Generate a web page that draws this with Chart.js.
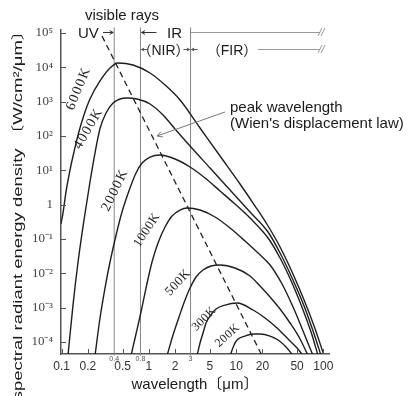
<!DOCTYPE html>
<html><head><meta charset="utf-8">
<script src="https://cdn.jsdelivr.net/npm/chart.js@4.4.1/dist/chart.umd.min.js"></script>
<style>html,body{margin:0;padding:0;background:#fff;overflow:hidden}#wrap{width:409px;height:396px;position:relative}</style>
</head><body><div id="wrap"><canvas id="c"></canvas></div>
<script>
// ---------- data ----------
const xTickValues = [0.1, 0.2, 0.5, 1, 2, 5, 10, 20, 50, 100];
const xTickLabels = ['0.1', '0.2', '0.5', '1', '2', '5', '10', '20', '50', '100'];
const yTickValues = [1e5, 1e4, 1e3, 100, 10, 1, 0.1, 0.01, 0.001, 0.0001];
const yTickLabels = ['10⁵', '10⁴', '10³', '10²', '10¹', '1', '10⁻¹', '10⁻²', '10⁻³', '10⁻⁴'];

const temps = ['6000K', '4000K', '2000K', '1000K', '500K', '300K', '200K'];
const wl6000 = [0.098, 0.1035, 0.112, 0.1245, 0.1384, 0.154, 0.180, 0.211, 0.275, 0.358, 0.442, 0.657, 1.03, 1.53, 2.274, 3.855, 6.539, 11.08, 16.47, 23.22, 31.87, 43.75, 60.07, 78.22, 101.9];
const e6000  = [0.273, 0.571, 2.34, 10.2, 34.2, 107, 409, 1195, 4000, 9550, 13370, 11690, 6838, 3057, 1118, 171, 26.1, 4.00, 0.913, 0.239, 0.0584, 0.0109, 0.00167, 0.000292, 0.00004];
const wl4000 = [0.118, 0.1348, 0.154, 0.1802, 0.211, 0.2409, 0.275, 0.3222, 0.388, 0.466, 0.561, 0.731, 1.03, 1.451, 1.992, 2.96, 5.02, 8.511, 14.43, 23.22, 31.87, 43.75, 60.07, 76.18, 94.10];
const e4000  = [0.00004, 0.00119, 0.02135, 0.357, 4.57, 31.9, 165, 467, 914, 1195, 1278, 1195, 855, 409, 160, 51.1, 11.7, 2.67, 0.611, 0.160, 0.0390, 0.0073, 0.00112, 0.000209, 0.00004];
const wl2000 = [0.2409, 0.275, 0.3137, 0.358, 0.4206, 0.4914, 0.607, 0.7113, 0.8335, 1.03, 1.341, 1.992, 2.96, 4.399, 6.539, 9.714, 14.43, 23.22, 31.87, 43.75, 58.51, 72.26, 86.96];
const e2000  = [0.00004, 0.000499, 0.00373, 0.02135, 0.131, 0.611, 3.05, 8.35, 16.3, 24.4, 27.9, 21.4, 12.5, 5.97, 2.50, 1.04, 0.409, 0.107, 0.0279, 0.00522, 0.000854, 0.000195, 0.00004];
const wl1000 = [0.6233, 0.7113, 0.8115, 0.9264, 1.0853, 1.2716, 1.530, 1.8403, 2.274, 2.735, 3.855, 5.728, 8.511, 12.65, 17.83, 24.48, 33.60, 44.92, 58.51, 76.18];
const e1000  = [0.00004, 0.000171, 0.000746, 0.00373, 0.02135, 0.0764, 0.2234, 0.467, 0.698, 0.799, 0.698, 0.437, 0.209, 0.0873, 0.0390, 0.0175, 0.00488, 0.00104, 0.000209, 0.00004];
const wl500  = [1.613, 1.889, 2.214, 2.594, 2.96, 3.469, 4.172, 5.155, 6.539, 9.714, 14.43, 18.80, 24.48, 31.87, 41.50, 54.06, 66.77];
const e500   = [0.00004, 0.00016, 0.000534, 0.00167, 0.00373, 0.00781, 0.0125, 0.01633, 0.0175, 0.0143, 0.00835, 0.00427, 0.00204, 0.000913, 0.000357, 0.000122, 0.00004];
const wl300  = [3.561, 3.855, 4.172, 4.517, 5.020, 5.883, 7.459, 10.24, 15.63, 21.45, 29.44, 39.37, 49.93, 58.51];
const e300   = [0.00004, 0.0000933, 0.000182, 0.000357, 0.000571, 0.000913, 0.00119, 0.00136, 0.000854, 0.000499, 0.000255, 0.000122, 0.0000667, 0.00004];
const wl200  = [8.511, 9.461, 10.24, 12.65, 15.63, 18.80, 24.48, 30.23, 37.34, 44.92];
const e200   = [0.00004, 0.0000816, 0.000114, 0.000149, 0.000171, 0.000171, 0.000149, 0.000114, 0.0000714, 0.00004];

// peak wavelength (Wien's displacement law) dashed line
const wlPeak = [0.29, 19.8];
const ePeak  = [81800, 0.00004];
// band boundaries (μm)
const bandEdges = [0.4, 0.8, 3];
const bandEdgeLabels = ['0.4', '0.8', '3'];
const bandLineE = [0.00004, 145000];

// curve label anchors (λ, E), rotation (deg), font size (px)
const labelWl   = [0.156, 0.203, 0.41, 0.95, 2.157, 4.285, 7.97];
const labelE    = [2417, 165, 2.67, 0.183, 0.0054, 0.000467, 0.000154];
const labelRot  = [-68, -60, -64, -57, -47, -45, -42];
const labelSize = [14, 14, 14, 13, 13, 12, 12];

// ---------- build ----------
const wls = [wl6000, wl4000, wl2000, wl1000, wl500, wl300, wl200];
const es  = [e6000, e4000, e2000, e1000, e500, e300, e200];
const pts = (xs, ys) => xs.map((v, i) => ({x: v, y: ys[i]}));

const datasets = [];
temps.forEach((t, i) => datasets.push({
  label: t, data: pts(wls[i], es[i]), borderColor: '#1e1e1e', borderWidth: 1.4,
  pointRadius: 0, cubicInterpolationMode: 'monotone', fill: false
}));
datasets.push({label: 'peak', data: pts(wlPeak, ePeak), borderColor: '#222', borderWidth: 1.3,
  borderDash: [6, 4], pointRadius: 0, tension: 0, fill: false});
bandEdges.forEach(b => datasets.push({label: 'edge' + b, data: pts([b, b], bandLineE),
  borderColor: '#858585', borderWidth: 1, pointRadius: 0, tension: 0, clip: false, fill: false}));

const SANS = '"Liberation Sans", Arial, "Noto Sans CJK JP", sans-serif';
const SERIF = '"Liberation Serif", "Times New Roman", serif';

function arrow(ctx, x1, y1, x2, y2, h) {
  h = h || 4;
  const a = Math.atan2(y2 - y1, x2 - x1);
  ctx.beginPath(); ctx.moveTo(x1, y1); ctx.lineTo(x2, y2);
  ctx.moveTo(x2 - h * Math.cos(a - 0.5), y2 - h * Math.sin(a - 0.5));
  ctx.lineTo(x2, y2);
  ctx.lineTo(x2 - h * Math.cos(a + 0.5), y2 - h * Math.sin(a + 0.5));
  ctx.stroke();
}
function brk(ctx, x, y) {
  ctx.beginPath();
  ctx.moveTo(x - 3, y + 4); ctx.lineTo(x + 1, y - 4);
  ctx.moveTo(x, y + 4); ctx.lineTo(x + 4, y - 4);
  ctx.stroke();
}

const decor = {
  id: 'decor',
  afterDraw(chart) {
    const {ctx, scales: {x, y}, chartArea: a} = chart;
    ctx.save();
    // inward tick marks
    ctx.strokeStyle = '#555'; ctx.lineWidth = 1;
    xTickValues.forEach(v => {
      const px = Math.round(x.getPixelForValue(v)) + 0.5;
      ctx.beginPath(); ctx.moveTo(px, a.bottom); ctx.lineTo(px, a.bottom - 5); ctx.stroke();
    });
    yTickValues.forEach(v => {
      const py = Math.round(y.getPixelForValue(v)) + 0.5;
      ctx.beginPath(); ctx.moveTo(a.left, py); ctx.lineTo(a.left + 5, py); ctx.stroke();
    });
    // small band-edge labels under axis
    ctx.fillStyle = '#555'; ctx.font = '7px ' + SANS; ctx.textAlign = 'center'; ctx.textBaseline = 'middle';
    bandEdges.forEach((b, i) => ctx.fillText(bandEdgeLabels[i], x.getPixelForValue(b), a.bottom + 5));

    // curve labels
    ctx.fillStyle = '#222';
    temps.forEach((t, i) => {
      ctx.save();
      ctx.font = labelSize[i] + 'px ' + SERIF;
      ctx.letterSpacing = labelSize[i] >= 14 ? '1.5px' : '0.5px';
      ctx.translate(x.getPixelForValue(labelWl[i]), y.getPixelForValue(labelE[i]));
      ctx.rotate(labelRot[i] * Math.PI / 180);
      ctx.textAlign = 'center'; ctx.textBaseline = 'middle';
      ctx.fillText(t, 0, 0);
      ctx.restore();
    });

    const xv = x.getPixelForValue(bandEdges[0]);
    const xn = x.getPixelForValue(bandEdges[1]);
    const xf = x.getPixelForValue(bandEdges[2]);
    // top annotations
    ctx.fillStyle = '#1a1a1a'; ctx.font = '15px ' + SANS; ctx.textBaseline = 'alphabetic';
    ctx.textAlign = 'center'; ctx.fillText('visible rays', 122, 20);
    ctx.textAlign = 'left'; ctx.fillText('UV', 78, 38);
    ctx.strokeStyle = '#333'; ctx.lineWidth = 1;
    arrow(ctx, 103, 32.5, xv - 1, 32.5);
    arrow(ctx, xn + 16, 32.5, xn + 1, 32.5);
    ctx.fillText('IR', 167, 38);
    ctx.strokeStyle = '#999';
    ctx.beginPath(); ctx.moveTo(xf, 32.5); ctx.lineTo(320, 32.5); ctx.stroke();
    brk(ctx, 321, 32);
    // second row
    ctx.font = '14px ' + SANS; ctx.fillStyle = '#1a1a1a'; ctx.textAlign = 'center';
    ctx.fillText('（NIR）', (xn + xf) / 2 - 2, 55);
    ctx.fillText('（FIR）', 232, 55);
    ctx.strokeStyle = '#555';
    arrow(ctx, xn + 7, 49.5, xn + 1, 49.5, 3);
    arrow(ctx, xf - 7, 49.5, xf - 1, 49.5, 3);
    arrow(ctx, xf + 7, 49.5, xf + 1, 49.5, 3);
    ctx.strokeStyle = '#999';
    ctx.beginPath(); ctx.moveTo(258, 49.5); ctx.lineTo(320, 49.5); ctx.stroke();
    brk(ctx, 321, 49);
    // peak wavelength note
    ctx.font = '15px ' + SANS; ctx.textAlign = 'left'; ctx.fillStyle = '#1a1a1a';
    ctx.fillText('peak wavelength', 230, 112);
    ctx.fillText("(Wien's displacement law)", 230, 128);
    ctx.strokeStyle = '#777';
    arrow(ctx, 225, 112, 157, 136, 6);

    // y-axis title (rotated)
    ctx.save();
    ctx.translate(18, 211); ctx.rotate(-Math.PI / 2); ctx.scale(1, 0.72);
    ctx.font = '18.5px ' + SANS; ctx.textAlign = 'center'; ctx.textBaseline = 'middle'; ctx.fillStyle = '#1a1a1a';
    ctx.fillText('spectral radiant energy density 〔W/cm²/μm〕', 0, 0);
    ctx.restore();
    ctx.restore();
  }
};

new Chart(document.getElementById('c'), {
  type: 'line',
  data: {datasets},
  options: {
    responsive: true, maintainAspectRatio: false, animation: false,
    layout: {padding: {left: 0, right: 80, top: 30, bottom: 0}},
    plugins: {legend: {display: false}, tooltip: {enabled: false}},
    scales: {
      x: {
        type: 'logarithmic', min: 0.0982, max: 116, bounds: 'data',
        afterBuildTicks: s => { s.ticks = xTickValues.map(v => ({value: v})); },
        afterFit: s => { s.height = 42; },
        grid: {display: false, drawTicks: false},
        border: {display: true, color: '#555', width: 1.5},
        ticks: {autoSkip: false, maxRotation: 0, padding: 5, color: '#333',
          font: {family: SANS, size: 12},
          callback: (v) => { const i = xTickValues.findIndex(t => Math.abs(Math.log10(t) - Math.log10(v)) < 1e-6); return i >= 0 ? xTickLabels[i] : ''; }},
        title: {display: true, text: 'wavelength〔μm〕', color: '#1a1a1a', font: {family: SANS, size: 15}, padding: {top: 0, bottom: 2}}
      },
      y: {
        type: 'logarithmic', min: 0.00004467, max: 122300, bounds: 'data',
        afterBuildTicks: s => { s.ticks = yTickValues.map(v => ({value: v})); },
        afterFit: s => { s.width = 61; },
        grid: {display: false, drawTicks: false},
        border: {display: true, color: '#555', width: 1.5},
        ticks: {autoSkip: false, padding: 8, color: '#444',
          font: {family: SERIF, size: 13},
          callback: (v) => { const i = yTickValues.findIndex(t => Math.abs(Math.log10(t) - Math.log10(v)) < 1e-6); return i >= 0 ? yTickLabels[i] : ''; }}
      }
    }
  },
  plugins: [decor]
});
</script>
</body></html>
